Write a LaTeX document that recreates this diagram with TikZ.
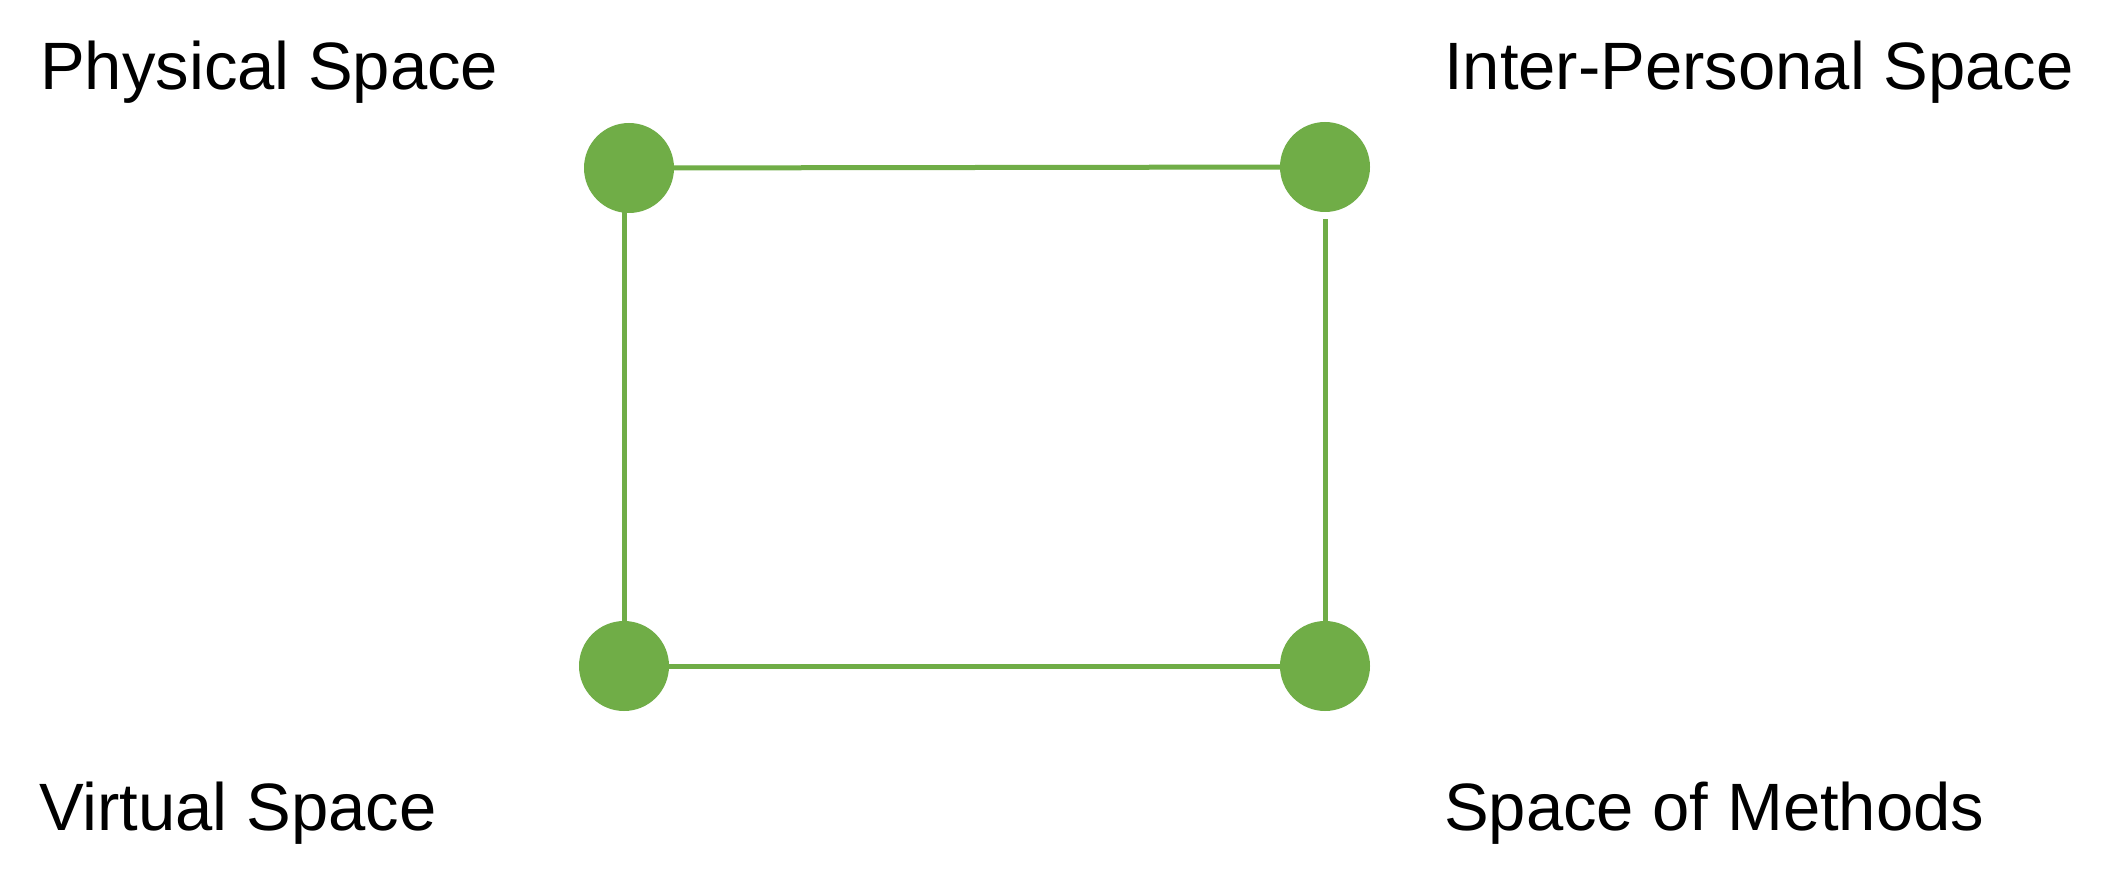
\documentclass[tikz,border=0pt]{standalone}
\usepackage{fontspec}
\setmainfont{Liberation Sans}
\definecolor{dotgreen}{HTML}{70AD47}
\begin{document}
\begin{tikzpicture}[x=1pt,y=-1pt,
  dot/.style={circle,fill=dotgreen,draw=none,minimum size=90pt,inner sep=0pt},
  link/.style={draw=dotgreen,line width=5pt},
  lbl/.style={anchor=base west,inner sep=0pt,font=\fontsize{67}{80}\selectfont,text=black}]
\useasboundingbox (0,0) rectangle (2104,877);
\fill[white] (0,0) rectangle (2104,877);
\node[dot] (TL) at (629,168) {};
\node[dot] (TR) at (1325,167) {};
\node[dot] (BL) at (624,666) {};
\node[dot] (BR) at (1325,666) {};
\draw[link] (TL) -- (TR);
\draw[link] (BL) -- (BR);
\draw[link] (BL) -- (BL |- TL);
\draw[link] (BR) -- ([yshift=-7pt]TR.south);
\node[lbl] (ps) at (40,90) {Physical Space};
\node[lbl] (ips) at (1444,90) {Inter-Personal Space};
\node[lbl] (vs) at (39,830) {Virtual Space};
\node[lbl] (sm) at (1444,830) {Space of Methods};
\end{tikzpicture}
\end{document}
